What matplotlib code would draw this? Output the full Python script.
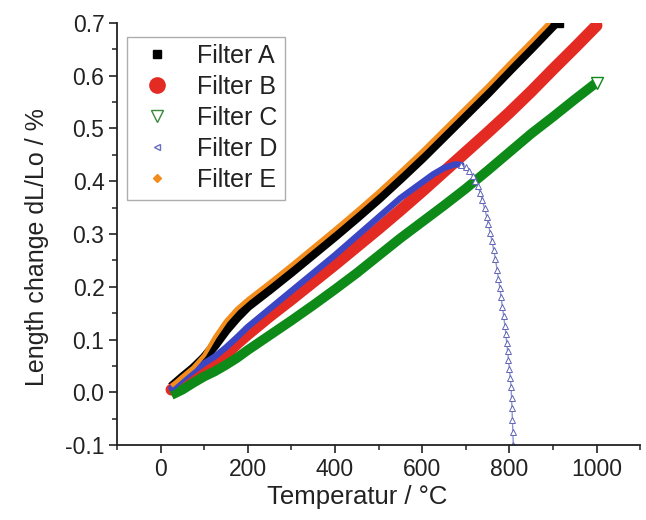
import matplotlib.pyplot as plt
from matplotlib.lines import Line2D
from matplotlib.ticker import MultipleLocator

plt.rcParams['font.family'] = ['Liberation Sans', 'DejaVu Sans']

# Filter A (schwarz)
temp_a = [25, 50, 75, 100, 125, 150, 175, 200, 250, 300, 350, 400, 450, 500,
          550, 600, 650, 700, 750, 800, 850, 900, 910]
dl_a = [0.010, 0.028, 0.045, 0.065, 0.090, 0.118, 0.142, 0.163, 0.195, 0.228,
        0.262, 0.296, 0.331, 0.367, 0.405, 0.444, 0.485, 0.526, 0.567, 0.610,
        0.652, 0.695, 0.704]

# Filter B (rot)
temp_b = [25, 50, 75, 100, 125, 150, 175, 200, 250, 300, 350, 400, 450, 500,
          550, 600, 650, 700, 750, 800, 850, 900, 950, 1000]
dl_b = [0.005, 0.018, 0.030, 0.042, 0.056, 0.072, 0.092, 0.110, 0.144, 0.176,
        0.209, 0.242, 0.276, 0.310, 0.345, 0.381, 0.418, 0.455, 0.492, 0.530,
        0.570, 0.612, 0.653, 0.695]

# Filter C (gruen)
temp_c = [25, 50, 75, 100, 125, 150, 175, 200, 250, 300, 350, 400, 450, 500,
          550, 600, 650, 700, 750, 800, 850, 900, 950, 1000]
dl_c = [-0.005, 0.005, 0.018, 0.030, 0.040, 0.052, 0.065, 0.080, 0.108, 0.136,
        0.165, 0.195, 0.226, 0.259, 0.292, 0.323, 0.354, 0.386, 0.420, 0.455,
        0.490, 0.522, 0.555, 0.587]

# Filter D (blau) - Anstieg und Abfall
temp_d = [25, 50, 75, 100, 125, 150, 175, 200, 250, 300, 350, 400, 450, 500,
          550, 600, 625, 650, 675, 690]
dl_d = [0.008, 0.025, 0.040, 0.055, 0.068, 0.085, 0.104, 0.124, 0.158, 0.192,
        0.226, 0.260, 0.296, 0.332, 0.368, 0.398, 0.413, 0.425, 0.432, 0.431]
temp_d_fall = [690, 700, 708, 716, 722, 728, 733, 738, 743, 748, 752, 756, 760,
               764, 768, 772, 775, 778, 781, 784, 787, 790, 792, 794, 796, 798,
               800, 802, 804, 805, 806, 807, 808, 809]
dl_d_fall = [0.431, 0.426, 0.419, 0.410, 0.400, 0.390, 0.378, 0.364, 0.349,
             0.333, 0.318, 0.302, 0.287, 0.270, 0.252, 0.232, 0.215, 0.198,
             0.180, 0.162, 0.144, 0.125, 0.110, 0.094, 0.078, 0.062, 0.045,
             0.028, 0.010, -0.010, -0.030, -0.052, -0.075, -0.100]

# Filter E (orange)
temp_e = [25, 50, 75, 100, 125, 150, 175, 200, 250, 300, 350, 400, 450, 500,
          550, 600, 650, 700, 750, 800, 850, 900]
dl_e = [0.012, 0.030, 0.047, 0.070, 0.105, 0.135, 0.158, 0.176, 0.208, 0.241,
        0.275, 0.309, 0.344, 0.380, 0.418, 0.457, 0.498, 0.539, 0.580, 0.623,
        0.665, 0.708]

fig = plt.figure(figsize=(6.46, 5.2), dpi=100)
ax = fig.add_axes([0.181, 0.144, 0.81, 0.812])

ax.plot(temp_a, dl_a, '-', color='black', lw=7, solid_capstyle='butt')
ax.plot(temp_b, dl_b, '-', color='#e32b24', lw=8.5, solid_capstyle='round')
ax.plot(temp_c, dl_c, '-', color='#0d8a17', lw=7, solid_capstyle='butt')
ax.plot(temp_c[-1], dl_c[-1], 'v', mfc='white', mec='#0d8a17', ms=8)
ax.plot(temp_d, dl_d, '-', color='#3b46c4', lw=4.5, solid_capstyle='round')
ax.plot(temp_d_fall, dl_d_fall, '-^', color='#9094d0', lw=1.0, mfc='white',
        mec='#6064b8', ms=4, mew=0.7)
ax.plot(temp_e, dl_e, '-', color='#f28c1c', lw=3, solid_capstyle='butt')
ax.plot(temp_a[-1], dl_a[-1], 's', color='black', ms=8)

ax.set_xlim(-100, 1100)
ax.set_ylim(-0.1, 0.7)
ax.xaxis.set_major_locator(MultipleLocator(200))
ax.xaxis.set_minor_locator(MultipleLocator(100))
ax.yaxis.set_major_locator(MultipleLocator(0.1))
ax.yaxis.set_minor_locator(MultipleLocator(0.05))
ax.yaxis.set_major_formatter(plt.FormatStrFormatter('%.1f'))

for s in ['top', 'right']:
    ax.spines[s].set_visible(False)
for s in ['left', 'bottom']:
    ax.spines[s].set_linewidth(1.3)
    ax.spines[s].set_color('#222222')
ax.tick_params(which='major', direction='out', length=6, width=1.2,
               labelsize=16.5, colors='#222222', pad=3)
ax.tick_params(which='minor', direction='out', length=3.5, width=1.1,
               colors='#222222')

ax.set_xlabel('Temperatur / °C', fontsize=18.5, color='#222222')
ax.xaxis.set_label_coords(0.46, -0.095)
ax.set_ylabel('Length change dL/Lo / %', fontsize=18, color='#222222')
ax.yaxis.set_label_coords(-0.13, 0.47)

handles = [
    Line2D([], [], ls='none', marker='s', color='black', ms=6),
    Line2D([], [], ls='none', marker='o', color='#e32b24', ms=11),
    Line2D([], [], ls='none', marker='v', mfc='white', mec='#3a8a3a', ms=8),
    Line2D([], [], ls='none', marker='<', mfc='white', mec='#6a6ec0', ms=5),
    Line2D([], [], ls='none', marker='D', color='#f28c1c', ms=4),
]
labels = ['Filter A', 'Filter B', 'Filter C', 'Filter D', 'Filter E']
leg = ax.legend(handles, labels, loc='upper left', bbox_to_anchor=(0.005, 0.985),
                fontsize=18, frameon=True, fancybox=False, borderpad=0.3,
                labelspacing=0.28, handletextpad=0.7, handlelength=1.8,
                borderaxespad=0.3)
leg.get_frame().set_edgecolor('#999999')
leg.get_frame().set_linewidth(1.0)
for t in leg.get_texts():
    t.set_color('#222222')

fig.savefig('out.png', dpi=100)
